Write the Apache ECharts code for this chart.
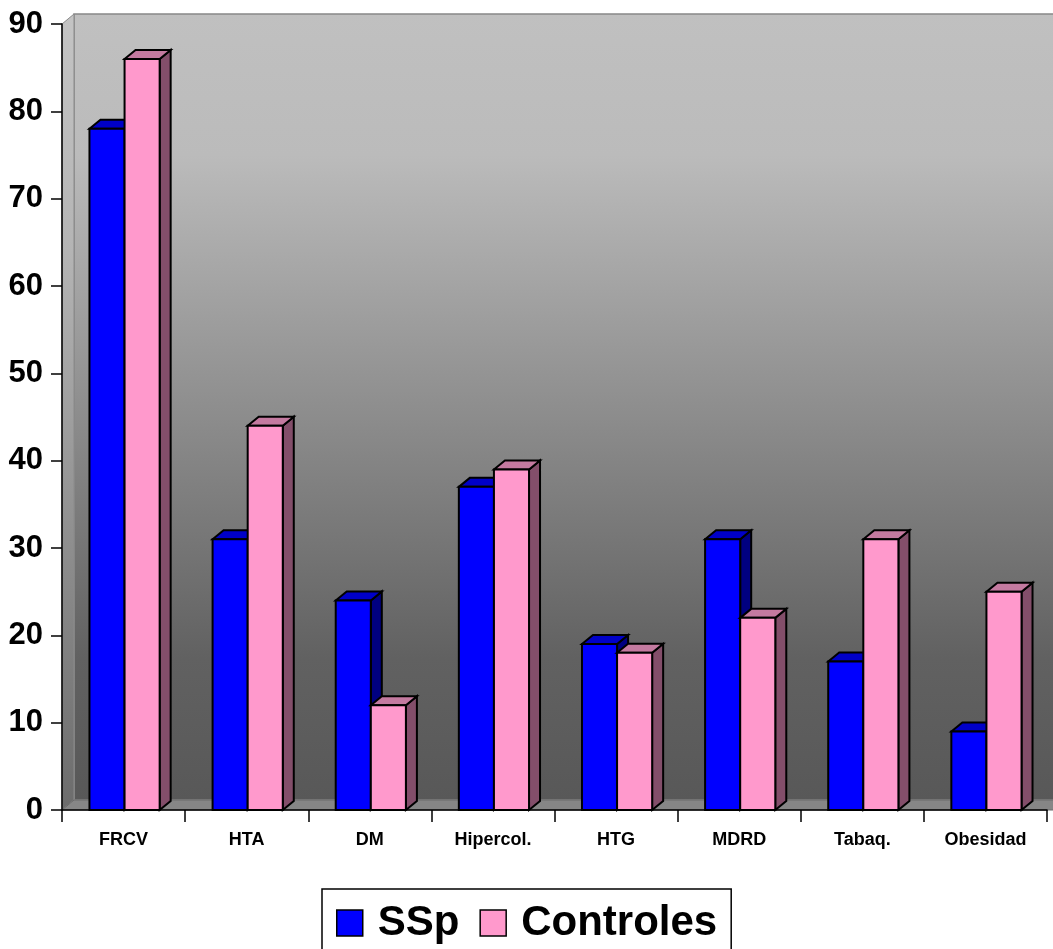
<!DOCTYPE html>
<html>
<head>
<meta charset="utf-8">
<script src="https://cdn.jsdelivr.net/npm/echarts@6/dist/echarts.min.js"></script>
<style>
  html, body { margin: 0; padding: 0; background: #ffffff; }
  #chart { width: 1053px; height: 949px; }
</style>
</head>
<body>
<div id="chart"></div>
<script>
// Categories and values (%)
const categories = ['FRCV', 'HTA', 'DM', 'Hipercol.', 'HTG', 'MDRD', 'Tabaq.', 'Obesidad'];
const ssp = [78, 31, 24, 37, 19, 31, 17, 9];
const controles = [86, 44, 12, 39, 18, 22, 31, 25];
const yTicks = [0, 10, 20, 30, 40, 50, 60, 70, 80, 90];

const FONT = 'Arial, "Liberation Sans", sans-serif';
const DEPTH_X = 11, DEPTH_Y = 9;       // bar depth offset
const WALL_X = 12, WALL_Y = 10;        // back wall offset

const chart = echarts.init(document.getElementById('chart'), null, { renderer: 'canvas' });

// Back wall, left side panel and floor of the 3D plot box
function renderBox(params, api) {
  const cs = params.coordSys;
  const x0 = cs.x, y0 = cs.y, x1 = cs.x + cs.width, y1 = cs.y + cs.height;
  const grad = (stops) => new echarts.graphic.LinearGradient(0, 0, 0, 1, stops);
  return {
    type: 'group',
    children: [
      {
        type: 'rect',
        shape: { x: x0 + WALL_X, y: y0 - WALL_Y, width: cs.width + 20, height: cs.height },
        style: {
          fill: grad([
            { offset: 0, color: '#c0c0c0' },
            { offset: 0.18, color: '#bbbbbb' },
            { offset: 0.5, color: '#8e8e8e' },
            { offset: 0.82, color: '#616161' },
            { offset: 1, color: '#585858' }
          ]),
          stroke: '#888888', lineWidth: 1.5
        }
      },
      {
        type: 'polygon',
        shape: { points: [[x0, y0], [x0 + WALL_X, y0 - WALL_Y], [x0 + WALL_X, y1 - WALL_Y], [x0, y1]] },
        style: {
          fill: grad([
            { offset: 0, color: '#c4c4c4' },
            { offset: 0.3, color: '#b4b4b4' },
            { offset: 0.6, color: '#959595' },
            { offset: 1, color: '#6c6c6c' }
          ]),
          stroke: '#8a8a8a', lineWidth: 1
        }
      },
      {
        type: 'polygon',
        shape: { points: [[x0, y1], [x0 + WALL_X, y1 - WALL_Y], [x1 + WALL_X + 20, y1 - WALL_Y], [x1 + 20, y1]] },
        style: { fill: '#868686', stroke: '#6a6a6a', lineWidth: 1 }
      }
    ]
  };
}

// 3D bar: front face, top face and right side face
function makeBarRenderer(side, colors) {
  return function (params, api) {
    const cat = api.value(0);
    const top = api.coord([cat, api.value(1)]);
    const base = api.coord([cat, 0]);
    const band = api.size([1, 0])[0];
    const w = band * 0.285;
    const mid = top[0] + 1;
    const xl = side < 0 ? mid - w : mid;
    const xr = xl + w;
    const yt = top[1], yb = base[1];
    const line = { stroke: '#000000', lineWidth: 2, lineJoin: 'miter' };
    return {
      type: 'group',
      children: [
        {
          type: 'polygon',
          shape: { points: [[xr, yb], [xr + DEPTH_X, yb - DEPTH_Y], [xr + DEPTH_X, yt - DEPTH_Y], [xr, yt]] },
          style: Object.assign({ fill: colors.side }, line)
        },
        {
          type: 'polygon',
          shape: { points: [[xl, yt], [xl + DEPTH_X, yt - DEPTH_Y], [xr + DEPTH_X, yt - DEPTH_Y], [xr, yt]] },
          style: Object.assign({ fill: colors.top }, line)
        },
        {
          type: 'rect',
          shape: { x: xl, y: yt, width: w, height: yb - yt },
          style: Object.assign({ fill: colors.front }, line)
        }
      ]
    };
  };
}

const blue = { front: '#0000ff', top: '#0000c8', side: '#000080' };
const pink = { front: '#ff99cc', top: '#c47aa0', side: '#834e6a' };

const option = {
  animation: false,
  backgroundColor: '#ffffff',
  grid: { left: 62, top: 24, width: 985, height: 786, containLabel: false },
  legend: {
    data: [
      { name: 'SSp', itemStyle: { color: blue.front, borderColor: '#000', borderWidth: 1.5 } },
      { name: 'Controles', itemStyle: { color: pink.front, borderColor: '#000', borderWidth: 1.5 } }
    ],
    left: 322,
    top: 889,
    icon: 'rect',
    itemWidth: 26,
    itemHeight: 26,
    itemGap: 20,
    padding: [10, 14, 40, 14],
    borderColor: '#000000',
    borderWidth: 1.5,
    backgroundColor: '#ffffff',
    selectedMode: false,
    textStyle: {
      fontFamily: FONT, fontWeight: 'bold', fontSize: 42, color: '#000',
      lineHeight: 48, padding: [0, 0, 0, 10]
    }
  },
  xAxis: {
    type: 'category',
    data: categories,
    boundaryGap: true,
    axisLine: { show: true, lineStyle: { color: '#000', width: 1.5 } },
    axisTick: { show: true, length: 12, alignWithLabel: false, lineStyle: { color: '#000', width: 1.5 } },
    axisLabel: { fontFamily: FONT, fontWeight: 'bold', fontSize: 18, color: '#000', margin: 21, interval: 0 },
    splitLine: { show: false },
    z: 10
  },
  yAxis: {
    type: 'value',
    min: yTicks[0],
    max: yTicks[yTicks.length - 1],
    interval: 10,
    axisLine: { show: true, lineStyle: { color: '#000', width: 1.5 } },
    axisTick: { show: true, length: 11, lineStyle: { color: '#000', width: 1.5 } },
    axisLabel: { fontFamily: FONT, fontWeight: 'bold', fontSize: 31, color: '#000', margin: 19 },
    splitLine: { show: false },
    z: 10
  },
  series: [
    {
      type: 'custom',
      name: 'box',
      silent: true,
      renderItem: renderBox,
      data: [[0, 0]],
      z: 1
    },
    {
      type: 'custom',
      name: 'SSp',
      renderItem: makeBarRenderer(-1, blue),
      itemStyle: { color: blue.front },
      data: ssp.map((v, i) => [i, v]),
      encode: { x: 0, y: 1 },
      z: 2
    },
    {
      type: 'custom',
      name: 'Controles',
      renderItem: makeBarRenderer(1, pink),
      itemStyle: { color: pink.front },
      data: controles.map((v, i) => [i, v]),
      encode: { x: 0, y: 1 },
      z: 3
    }
  ]
};

chart.setOption(option);
</script>
</body>
</html>
